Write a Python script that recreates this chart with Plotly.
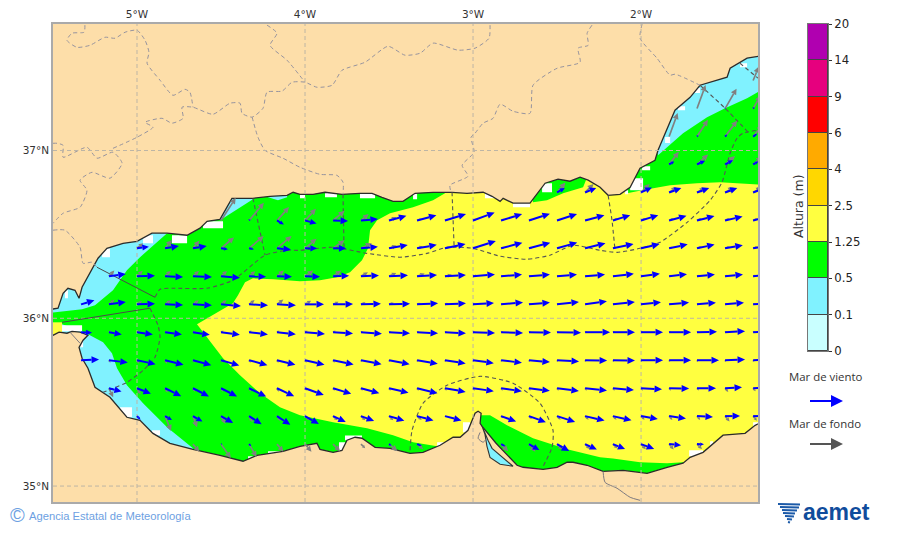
import math
import plotly.graph_objects as go

N = None

# ---------- colour scale ----------
level_labels = ["0", "0.1", "0.5", "1.25", "2.5", "4", "6", "9", "14", "20"]
level_colors = ["#C9FFFF", "#80F2FF", "#00FF00", "#FFFF40", "#FFD700", "#FFAA00", "#FF0000", "#E6007E", "#B000B0"]
band_heights = [1, 1, 1, 1, 1, 1, 1, 1, 1]

# ---------- coast ----------
north_lon = [-5.548,-5.470,-5.440,-5.411,-5.369,-5.345,-5.327,-5.280,-5.232,-5.179,-5.083,-5.000,-4.911,-4.821,-4.702,-4.625,-4.583,-4.506,-4.435,-4.310,-4.208,-4.107,-4.071,-4.030,-3.952,-3.881,-3.780,-3.673,-3.601,-3.542,-3.476,-3.417,-3.345,-3.238,-3.125,-3.036,-2.940,-2.887,-2.839,-2.821,-2.762,-2.661,-2.613,-2.571,-2.494,-2.423,-2.363,-2.315,-2.244,-2.196,-2.125,-2.065,-2.006,-1.917,-1.899,-1.839,-1.798,-1.708,-1.649,-1.488,-1.470,-1.369,-1.262,-1.262,-5.548]
north_lat = [36.048,36.060,36.149,36.179,36.167,36.119,36.185,36.274,36.358,36.417,36.447,36.459,36.507,36.507,36.495,36.537,36.578,36.590,36.715,36.715,36.727,36.733,36.751,36.739,36.739,36.751,36.739,36.745,36.745,36.721,36.697,36.697,36.745,36.751,36.751,36.745,36.751,36.727,36.697,36.715,36.686,36.686,36.751,36.805,36.829,36.817,36.841,36.823,36.781,36.733,36.739,36.781,36.894,36.942,37.001,37.139,37.240,37.317,37.389,37.437,37.490,37.550,37.568,37.800,37.800]

south_lon = [-5.548,-5.500,-5.464,-5.417,-5.387,-5.339,-5.292,-5.321,-5.345,-5.327,-5.292,-5.250,-5.161,-5.060,-4.982,-4.905,-4.804,-4.667,-4.506,-4.369,-4.286,-4.131,-4.030,-3.929,-3.911,-3.833,-3.780,-3.750,-3.702,-3.661,-3.583,-3.494,-3.375,-3.298,-3.196,-3.119,-3.077,-3.030,-2.988,-2.970,-2.952,-2.958,-2.946,-2.863,-2.738,-2.702,-2.583,-2.500,-2.440,-2.405,-2.321,-2.226,-2.107,-1.964,-1.845,-1.750,-1.708,-1.631,-1.512,-1.381,-1.321,-1.262,-1.262,-5.548]
south_lat = [35.899,35.899,35.917,35.911,35.922,35.917,35.899,35.869,35.827,35.762,35.702,35.589,35.529,35.410,35.392,35.314,35.255,35.219,35.183,35.148,35.183,35.207,35.237,35.255,35.219,35.201,35.213,35.273,35.291,35.285,35.231,35.225,35.195,35.201,35.243,35.291,35.291,35.332,35.434,35.446,35.434,35.374,35.356,35.255,35.124,35.112,35.100,35.112,35.142,35.142,35.124,35.088,35.094,35.076,35.112,35.136,35.171,35.201,35.303,35.314,35.362,35.392,34.800,34.800]

lagoon_lon = [-2.946,-2.929,-2.917,-2.899,-2.839,-2.762,-2.887,-2.911,-2.946]
lagoon_lat = [35.356,35.308,35.237,35.171,35.130,35.118,35.225,35.273,35.356]

# ---------- wave-height areas ----------
green_lon = [-5.548,-5.327,-5.250,-5.143,-5.060,-4.982,-4.821,-4.565,-4.506,-4.310,-4.310,-4.238,-4.220,-4.161,-4.107,-4.089,-1.946,-1.899,-1.750,-1.607,-1.500,-1.369,-1.232,-1.232,-4.667,-4.667,-4.821,-4.964,-5.060,-5.119,-5.149,-5.202,-5.280,-5.327,-5.446,-5.548]
green_lat = [36.030,36.054,36.077,36.167,36.286,36.364,36.507,36.614,36.584,36.709,36.882,36.882,36.721,36.703,36.721,36.882,37.180,36.972,37.103,37.198,37.252,37.312,37.389,34.975,34.975,35.225,35.350,35.493,35.601,35.702,35.791,35.857,35.899,35.922,35.964,35.976]

yellow_lon = [-3.167,-3.167,-2.661,-2.643,-2.560,-2.464,-2.345,-2.304,-2.095,-2.083,-1.994,-1.827,-1.667,-1.530,-1.232,-1.232,-1.649,-1.750,-1.845,-2.006,-2.167,-2.244,-2.440,-2.643,-2.798,-2.899,-2.952,-2.988,-3.196,-3.214,-3.357,-3.476,-3.631,-3.833,-4.030,-4.149,-4.268,-4.387,-4.488,-4.583,-4.643,-4.429,-4.399,-4.357,-4.310,-4.190,-4.030,-3.911,-3.810,-3.732,-3.661,-3.625,-3.613,-3.571,-3.494,-3.357,-3.238]
yellow_lat = [36.745,36.823,36.823,36.691,36.703,36.745,36.781,36.882,36.882,36.745,36.763,36.793,36.805,36.811,36.793,35.064,35.064,35.142,35.136,35.142,35.165,35.171,35.219,35.285,35.362,35.422,35.422,35.153,35.153,35.237,35.261,35.303,35.344,35.380,35.422,35.469,35.553,35.660,35.762,35.887,35.964,36.089,36.137,36.215,36.238,36.232,36.221,36.227,36.244,36.274,36.346,36.417,36.525,36.584,36.626,36.662,36.703]

strait_lon = [-5.548,-5.446,-5.446,-5.548]
strait_lat = [35.976,35.976,35.899,35.899]

# cells with no wave value along the coast
gap_lon0 = [-5.208,-4.964,-4.792,-4.607,-5.429,-3.881,-3.673,-4.030,-3.357,-2.929,-2.762,-2.589,-5.446,-5.101,-5.339,-4.911,-4.339,-4.220,-3.762,-3.798,-3.214,-3.060,-1.994,-2.065,-1.857,-1.780,-1.679,-1.411,-1.714,-1.589,-1.333,-2.095]
gap_lon1 = [-5.161,-4.905,-4.702,-4.488,-5.411,-3.810,-3.583,-4.000,-3.333,-2.869,-2.661,-2.530,-5.327,-5.030,-5.321,-4.863,-4.286,-4.131,-3.661,-3.762,-3.167,-3.018,-1.946,-1.988,-1.827,-1.738,-1.649,-1.369,-1.631,-1.571,-1.304,-2.077]
gap_lat0 = [36.364,36.447,36.447,36.537,36.119,36.721,36.715,36.715,36.709,36.715,36.662,36.751,35.922,35.410,35.827,35.303,35.142,35.183,35.273,35.201,35.225,35.320,36.882,36.763,37.044,37.240,37.342,37.496,35.177,35.243,35.344,36.739]
gap_lat1 = [36.417,36.495,36.495,36.578,36.167,36.751,36.751,36.751,36.751,36.751,36.703,36.805,35.958,35.469,35.869,35.332,35.177,35.207,35.302,35.261,35.261,35.380,36.906,36.835,37.080,37.264,37.372,37.520,35.213,35.267,35.380,36.763]

# ---------- forecast-zone boundaries ----------
zone_solid = [
    ([-5.238,-4.893], [36.304,36.125]),
    ([-5.446,-4.923], [35.976,36.060]),
]
zone_dashed = [
    ([-4.923,-4.875,-4.863,-4.893,-4.964,-5.060,-5.202], [36.060,35.958,35.887,35.768,35.690,35.618,35.559]),
    ([-4.893,-4.863,-4.786,-4.583,-4.429,-4.238,-4.107,-4.030,-3.833,-3.631,-3.435,-3.274,-3.155,-3.000,-2.839,-2.679,-2.542,-2.405,-2.244,-2.143,-2.006,-1.887,-1.726,-1.589,-1.518,-1.470,-1.429,-1.393,-1.262],
     [36.125,36.173,36.179,36.179,36.227,36.376,36.405,36.405,36.423,36.387,36.364,36.387,36.423,36.417,36.370,36.352,36.376,36.435,36.405,36.393,36.417,36.453,36.572,36.703,36.811,36.984,37.073,37.103,37.127]),
    ([-4.310,-4.238], [36.715,36.376]),
    ([-3.774,-3.768], [36.739,36.423]),
    ([-3.125,-3.113], [36.751,36.435]),
    ([-2.196,-2.173,-2.155], [36.733,36.584,36.405]),
    ([-1.649,-1.500,-1.363], [37.389,37.252,37.109]),
    ([-1.411,-1.304], [37.520,37.431]),
    ([-3.375,-3.363,-3.298,-3.155,-2.958,-2.762,-2.601,-2.524,-2.530,-2.589], [35.213,35.332,35.493,35.601,35.654,35.613,35.493,35.332,35.231,35.106]),
]

# ---------- land borders ----------
land_dashed = [
    ([-5.310,-5.315,-5.387,-5.417,-5.357,-5.280,-5.190,-5.131,-5.071,-5.000,-4.952,-4.929,-4.940,-4.863,-4.786,-4.714,-4.685,-4.667], [37.747,37.705,37.699,37.657,37.615,37.627,37.675,37.669,37.705,37.717,37.657,37.586,37.520,37.419,37.329,37.365,37.347,37.258]),
    ([-5.143,-5.000,-4.905,-4.952,-4.851,-4.792,-4.726,-4.732,-4.667,-4.548,-4.446,-4.387,-4.375,-4.315,-4.250,-4.226,-4.137,-4.077,-4.000,-3.929,-3.839,-3.780,-3.643,-3.506,-3.405,-3.315,-3.238,-3.089,-2.988,-2.905,-2.899], [37.013,37.079,37.139,37.168,37.192,37.163,37.192,37.258,37.258,37.216,37.282,37.282,37.222,37.199,37.252,37.348,37.354,37.407,37.407,37.377,37.389,37.478,37.526,37.621,37.568,37.580,37.640,37.598,37.610,37.669,37.753]),
    ([-4.226,-4.167,-4.208,-4.107,-4.000], [37.747,37.699,37.627,37.538,37.407]),
    ([-4.315,-4.280,-4.238,-4.131,-4.030,-3.911,-3.810,-3.774,-3.774], [37.199,37.079,37.001,36.954,36.900,36.858,36.852,36.811,36.739]),
    ([-5.500,-5.476,-5.440,-5.440,-5.298,-5.238,-5.143,-5.089,-5.161,-5.268,-5.339,-5.298,-5.339,-5.440,-5.500], [37.043,37.043,37.031,36.960,37.019,36.954,36.990,36.924,36.835,36.870,36.823,36.763,36.662,36.626,36.566]),
    ([-5.500,-5.429,-5.339,-5.321,-5.268,-5.238], [36.525,36.525,36.423,36.328,36.334,36.304]),
    ([-2.292,-2.321,-2.315,-2.375,-2.363,-2.500,-2.643,-2.661,-2.762,-2.839,-2.881,-2.940,-2.988,-3.012,-2.994,-3.065,-3.030,-3.137,-3.131], [37.747,37.699,37.627,37.610,37.526,37.490,37.389,37.222,37.234,37.276,37.192,37.163,37.103,37.079,36.990,36.912,36.847,36.793,36.751]),
    ([-1.994,-2.006,-1.905,-1.827,-1.798,-1.637], [37.753,37.669,37.550,37.449,37.455,37.383]),
]
land_solid = [
    ([-2.226,-2.214,-2.143,-2.065,-2.006], [35.088,35.022,34.987,34.933,34.915]),
    ([-5.399,-5.339], [35.917,35.851]),
    ([-2.958,-2.970,-2.940,-2.917], [35.320,35.285,35.261,35.285]),
]

# ---------- arrow grid ----------
col_lons = [-5.333,-5.167,-5.000,-4.833,-4.667,-4.500,-4.333,-4.167,-4.000,-3.833,-3.667,-3.500,-3.333,-3.167,-3.000,-2.833,-2.667,-2.500,-2.333,-2.167,-2.000,-1.833,-1.667,-1.500,-1.333]
row_lats = [35.25,35.417,35.583,35.75,35.917,36.083,36.25,36.417,36.583,36.75,36.917,37.083,37.25,37.417]
row_first_col = [4,2,1,0,0,0,1,2,5,17,21,21,22,24]

wind_len = [
 [0,1,3,0,0,0,0,3,5,N,N,5,12,14,13,13,14,12,7],
 [5,8,11,14,15,16,16,14,14,16,17,17,N,16,18,19,20,19,17,17,16,15,14],
 [13,15,18,18,18,19,19,20,19,19,20,21,21,21,21,21,22,22,21,21,20,19,17,15],
 [18,19,19,19,19,19,19,19,20,21,21,21,21,21,21,21,21,22,22,22,22,22,22,20,20],
 [11,13,16,17,17,19,19,19,20,20,21,21,21,21,22,22,22,24,25,22,22,22,20,20,19],
 [14,17,18,18,19,20,19,19,19,20,20,21,21,21,21,22,21,22,22,22,20,20,19,19,19],
 [17,18,18,19,19,17,15,15,16,18,19,20,21,22,21,21,20,20,21,19,18,18,18,18],
 [12,14,14,7,5,14,12,13,17,19,20,21,24,22,22,21,21,21,19,19,18,18,18],
 [0,2,8,12,15,17,18,20,22,23,22,22,21,20,18,18,18,18,18,18],
 [9,12,N,12,13,13,13,13],
 [6,9,9,6],
 [0,2,3,5],
 [0,1,2],
 [0],
]
wind_ang = [
 [0,0,-45,0,0,0,0,-30,-20,N,N,-25,-30,-30,-25,-22,-20,-5,-1],
 [-45,-30,-30,-30,-33,-33,-30,-25,-20,-17,-15,-15,N,-20,-20,-18,-13,-13,-10,-8,-3,0,0],
 [-15,-22,-26,-27,-27,-26,-25,-20,-17,-15,-13,-14,-10,-8,-8,-7,-7,-6,-5,-3,-1,0,3,3],
 [2,-7,-12,-14,-15,-16,-15,-14,-13,-12,-11,-11,-10,-9,-8,-7,-5,-3,-1,-1,0,0,0,2,2],
 [-3,-10,-8,-8,-9,-8,-7,-6,-5,-4,-4,-3,-3,-3,-2,-2,-1,-1,0,0,0,0,1,3,3],
 [17,8,2,-2,-3,-5,-3,-3,0,1,2,2,3,3,4,5,5,6,8,6,6,5,5,5,5],
 [8,2,-2,-2,-4,-1,-2,-2,2,3,3,4,4,5,5,5,5,5,7,8,7,6,6,6],
 [8,10,10,-8,-10,-5,0,0,5,10,10,12,18,15,15,16,14,12,13,12,12,10,10],
 [0,50,-30,-15,-2,5,15,15,17,20,17,18,18,15,17,17,15,14,13,13],
 [30,22,N,25,20,20,20,20],
 [30,25,28,30],
 [0,45,45,35],
 [0,45,45],
 [0],
]
swell_len = [
 [10,17,15,10,10,10,6,11,8,N,N,10,10,8,7,6,7,7,7],
 [2,16,12,9,7,6,6,6,6,6,6,0,N,3,4,5,5,5,5,5,5,7,6],
 [10,7,5,4,4,4,4,3,3,3,3,3,3,3,3,3,3,3,3,3,3,3,5,4],
 [0,3,4,4,3,3,3,3,3,3,2,2,2,2,2,2,2,2,2,2,2,2,2,2,2],
 [0,3,3,3,3,3,3,3,3,3,2,2,2,2,2,2,2,2,2,2,2,2,2,2,2],
 [0,7,6,7,7,7,7,8,7,6,5,5,4,4,3,3,3,3,3,3,3,3,3,3,3],
 [8,8,8,8,8,8,9,10,10,8,8,8,7,5,4,4,4,4,4,4,4,4,4,4],
 [8,11,10,17,19,19,15,14,12,8,6,5,4,4,4,4,4,4,4,4,5,5,5],
 [27,23,18,16,15,10,8,5,4,4,4,4,4,4,5,5,5,5,5,5],
 [13,12,N,12,9,9,10,10],
 [16,15,13,12],
 [25,20,20,15],
 [25,23,15],
 [15],
]
swell_ang = [
 [-50,-55,-60,-50,-50,-45,-45,-40,-40,N,N,-45,-50,-45,-45,-45,-48,-50,-45],
 [-60,-68,-70,-60,-60,-55,-45,-45,-45,-45,-40,0,N,-45,-45,-45,-45,-45,-45,-50,-50,-50,-50],
 [-65,-60,-60,-60,-60,-60,-60,-60,-60,-60,-60,-60,-60,-60,-60,-60,-60,-60,-60,-55,-55,-50,-50,-50],
 [0,-60,-60,-60,-60,-60,-60,-60,-60,-60,-60,-60,-60,-60,-60,-60,-60,-60,-60,-60,-60,-60,-60,-60,-60],
 [0,30,30,30,30,30,30,30,30,30,30,30,30,30,30,30,30,30,30,30,30,30,30,30,30],
 [0,40,35,35,35,38,38,37,30,25,25,20,20,15,15,15,15,15,15,15,15,15,15,15,15],
 [48,45,45,42,42,40,40,35,35,30,25,20,15,10,10,10,10,10,10,15,15,15,15,15],
 [40,50,50,40,40,40,40,35,25,20,20,15,20,15,15,15,15,20,20,20,20,20,20],
 [57,50,48,47,40,40,25,20,20,20,20,20,20,20,25,25,25,25,25,25],
 [50,45,N,45,35,30,30,30],
 [53,42,40,40],
 [70,57,53,50],
 [70,60,60],
 [68],
]

# ---------- text ----------
lon_ticks = [-5, -4, -3, -2]
lon_labels = ["5°W", "4°W", "3°W", "2°W"]
lat_ticks = [37, 36, 35]
lat_labels = ["37°N", "36°N", "35°N"]

LON0, LON1, LAT0, LAT1 = -5.5, -1.304, 34.905, 37.754
PX = 168.0  # arrow length unit: screen pixels per degree on the map


def arrows(lengths, angles, head_l, head_w):
    sx, sy, hx, hy = [], [], [], []
    for r, lat in enumerate(row_lats):
        for i, (L, a) in enumerate(zip(lengths[r], angles[r])):
            if not L:
                continue
            lon = col_lons[row_first_col[r] + i]
            c, s = math.cos(math.radians(a)), math.sin(math.radians(a))
            hl = min(head_l, L * 0.55)
            hw = hl * head_w / head_l
            bx = L - hl
            sx += [lon, lon + bx * c / PX, None]
            sy += [lat, lat + bx * s / PX, None]
            for px_, py_ in ((L, 0), (L - hl, hw / 2), (L - hl, -hw / 2), (L, 0)):
                hx.append(lon + (px_ * c - py_ * s) / PX)
                hy.append(lat + (px_ * s + py_ * c) / PX)
            hx.append(None)
            hy.append(None)
    return sx, sy, hx, hy


fig = go.Figure()


def poly(x, y, color, line=None, lw=0):
    fig.add_trace(go.Scatter(x=x, y=y, mode="lines", fill="toself", fillcolor=color,
                             line=dict(color=line or color, width=lw), hoverinfo="skip", showlegend=False))


def path(x, y, color, width=1, dash=None, smooth=False):
    fig.add_trace(go.Scatter(x=x, y=y, mode="lines", hoverinfo="skip", showlegend=False,
                             line=dict(color=color, width=width, dash=dash,
                                       shape="spline" if smooth else "linear", smoothing=0.6)))


poly(green_lon, green_lat, level_colors[2])
poly(yellow_lon, yellow_lat, level_colors[3])
poly(strait_lon, strait_lat, level_colors[3])

gx, gy = [], []
for a, b, c, d in zip(gap_lon0, gap_lon1, gap_lat0, gap_lat1):
    gx += [a, b, b, a, a, None]
    gy += [c, c, d, d, c, None]
poly(gx, gy, "#FFFFFF")

LAND = "#FDDEA9"
poly(north_lon, north_lat, LAND, "#2b2b2b", 1.3)
poly(south_lon, south_lat, LAND, "#2b2b2b", 1.3)
poly(lagoon_lon, lagoon_lat, level_colors[1], "#333333", 1.1)

for x, y in land_dashed:
    path(x, y, "#96939e", 1, "4px,3px", smooth=True)
for x, y in land_solid:
    path(x, y, "#7d7a80", 1, None, smooth=True)

for t in lon_ticks:
    path([t, t], [LAT0, LAT1], "#bdb5a5", 1, "4px,3px")
for t in lat_ticks:
    path([LON0, LON1], [t, t], "#bdb5a5", 1, "4px,3px")

for x, y in zone_solid:
    path(x, y, "#4a4a4a", 1)
for x, y in zone_dashed:
    path(x, y, "#555555", 1.1, "4px,3px", smooth=True)

sx, sy, hx, hy = arrows(swell_len, swell_ang, 6, 6)
path(sx, sy, "#808080", 1.7)
poly(hx, hy, "#808080")
sx, sy, hx, hy = arrows(wind_len, wind_ang, 7.5, 7)
path(sx, sy, "#0000FF", 2)
poly(hx, hy, "#0000FF")

# colour bar
fig.add_trace(go.Bar(x=[0] * len(band_heights), y=band_heights, base=list(range(len(band_heights))), width=1,
                     marker=dict(color=level_colors, line=dict(color="#444444", width=1)),
                     xaxis="x2", yaxis="y2", hoverinfo="skip", showlegend=False))


def X(px):
    return px / 900


def Y(py):
    return 1 - py / 533


shapes = []


def legend_arrow(y, col):
    shapes.append(dict(type="line", xref="paper", yref="paper", x0=X(810), x1=X(832), y0=Y(y), y1=Y(y),
                       line=dict(color=col, width=2)))
    shapes.append(dict(type="path", xref="paper", yref="paper", fillcolor=col, line=dict(color=col, width=0),
                       path=f"M{X(831)},{Y(y-6)} L{X(843)},{Y(y)} L{X(831)},{Y(y+6)} Z"))


legend_arrow(401, "#0000FF")
legend_arrow(444, "#555555")

# logo swirl
logo_bars = [(778, 800, 504), (780, 799, 507), (782, 797, 510), (783, 795, 513), (785, 794, 516), (787, 792, 519), (788, 790, 522)]
for x0, x1, y in logo_bars:
    shapes.append(dict(type="line", xref="paper", yref="paper", x0=X(x0), x1=X(x1), y0=Y(y), y1=Y(y + 0.5),
                       line=dict(color="#1c5aa8", width=2)))


def note(txt, x, y, size, color, font, anchor="center", angle=0, bold=False):
    return dict(text=f"<b>{txt}</b>" if bold else txt, x=X(x), y=Y(y), xref="paper", yref="paper", showarrow=False,
                xanchor=anchor, yanchor="middle", textangle=angle, font=dict(size=size, color=color, family=font))


annots = [
    note("Altura (m)", 798, 206, 12.5, "#333333", "DejaVu Sans", angle=-90),
    note("Mar de viento", 825.5, 376, 11.4, "#333333", "Open Sans"),
    note("Mar de fondo", 824.5, 423, 11.4, "#333333", "Open Sans"),
    note("©", 17, 515, 20, "#6d9fe2", "Liberation Sans"),
    note("Agencia Estatal de Meteorología", 26.5, 516, 11.2, "#6d9fe2", "Liberation Sans", anchor="left"),
    note("aemet", 801, 512, 23, "#0f4c9c", "Liberation Sans", anchor="left", bold=True),
]

axis_line = dict(showline=True, linecolor="#aaaaaa", linewidth=1.5, mirror=True, showgrid=False, zeroline=False, ticks="")

fig.update_layout(
    width=900, height=533, autosize=False,
    margin=dict(l=0, r=0, t=0, b=0, pad=0, autoexpand=False),
    paper_bgcolor="#FFFFFF", plot_bgcolor=level_colors[1],
    showlegend=False, bargap=0,
    shapes=shapes, annotations=annots,
    xaxis=dict(domain=[53 / 900, 758 / 900], range=[LON0, LON1], side="top", tickmode="array",
               tickvals=lon_ticks, ticktext=lon_labels, automargin=False,
               tickfont=dict(size=10.5, color="#333333", family="DejaVu Sans"), ticklen=0, **axis_line),
    yaxis=dict(domain=[1 - 502 / 533, 1 - 24 / 533], range=[LAT0, LAT1], tickmode="array",
               tickvals=lat_ticks, ticktext=lat_labels, automargin=False,
               tickfont=dict(size=10.5, color="#333333", family="DejaVu Sans"), ticklen=0, **axis_line),
    xaxis2=dict(domain=[808 / 900, 828 / 900], range=[-0.5, 0.5], anchor="y2", showticklabels=False, automargin=False,
                showgrid=False, zeroline=False, showline=True, linecolor="#777777", linewidth=1, mirror=True),
    yaxis2=dict(domain=[1 - 351 / 533, 1 - 24 / 533], range=[0, 9], anchor="x2", side="right", tickmode="array",
                tickvals=list(range(10)), ticktext=level_labels, ticks="outside", ticklen=3, tickcolor="#333333",
                tickfont=dict(size=11.7, color="#222222", family="DejaVu Sans"), showgrid=False, zeroline=False,
                automargin=False, showline=True, linecolor="#777777", linewidth=1, mirror=True),
)

fig.write_html("out.html", config={"displayModeBar": False},
               post_script="document.body.style.margin='0';document.body.style.overflow='hidden';")
